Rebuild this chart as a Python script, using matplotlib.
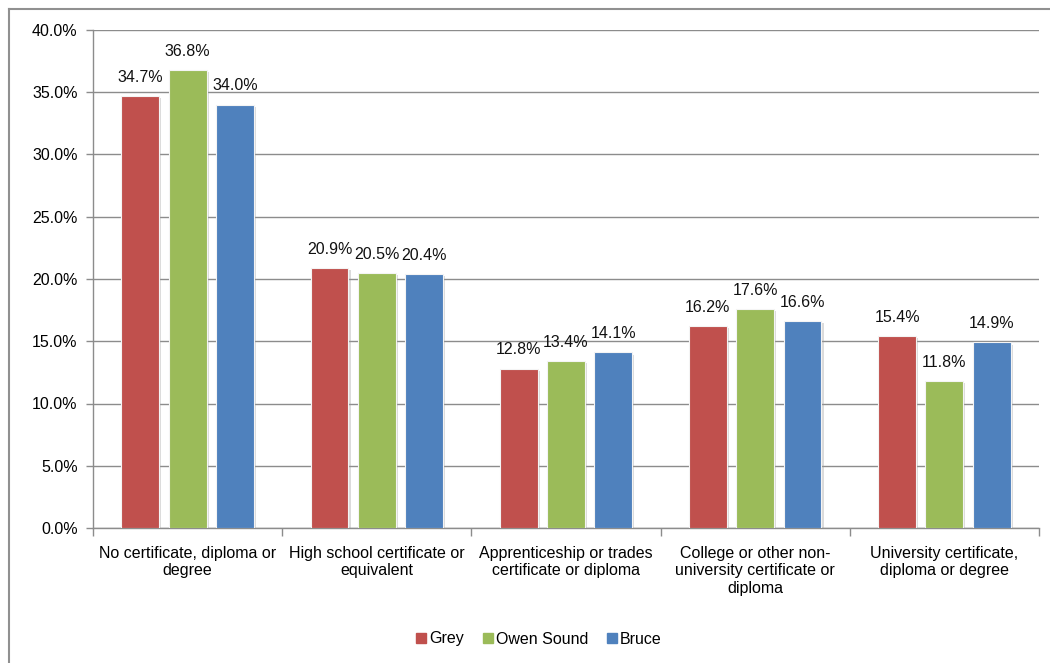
import matplotlib
matplotlib.use("Agg")
import matplotlib.pyplot as plt
import matplotlib.patheffects as pe
from matplotlib.lines import Line2D
import numpy as np

plt.rcParams['font.family'] = ['Liberation Sans', 'DejaVu Sans']

categories = [
    "No certificate, diploma or\ndegree",
    "High school certificate or\nequivalent",
    "Apprenticeship or trades\ncertificate or diploma",
    "College or other non-\nuniversity certificate or\ndiploma",
    "University certificate,\ndiploma or degree",
]
series_names = ["Grey", "Owen Sound", "Bruce"]
grey = [34.7, 20.9, 12.8, 16.2, 15.4]
owen_sound = [36.8, 20.5, 13.4, 17.6, 11.8]
bruce = [34.0, 20.4, 14.1, 16.6, 14.9]
yticks = [0, 5, 10, 15, 20, 25, 30, 35, 40]

colors = ["#C0504D", "#9BBB59", "#4F81BD"]
grid_color = "#8C8C8C"
fs = 11.5

fig = plt.figure(figsize=(10.5, 6.63), dpi=100)
ax = fig.add_axes([93 / 1050, 1 - 528 / 663, (1039 - 93) / 1050, (528 - 30) / 663])

x = np.arange(len(categories))
step = 0.25
width = 0.2
shadow = [pe.SimplePatchShadow(offset=(1.5, -1.5), shadow_rgbFace="#999999", alpha=0.35), pe.Normal()]

for i, (vals, name, col) in enumerate(zip([grey, owen_sound, bruce], series_names, colors)):
    pos = x + (i - 1) * step
    bars = ax.bar(pos, vals, width=width, color=col, edgecolor="#F4F4F4", linewidth=0.8,
                  label=name, zorder=3)
    for b in bars:
        b.set_path_effects(shadow)
    for px, v in zip(pos, vals):
        ax.text(px, v + 0.9, f"{v:.1f}%", ha="center", va="bottom", fontsize=fs, color="#111111", zorder=4)

ax.set_xlim(-0.5, len(categories) - 0.5)
ax.set_ylim(0, 40)
ax.set_yticks(yticks)
ax.set_yticklabels([f"{t:.1f}%" for t in yticks], fontsize=fs)
ax.yaxis.grid(True, color=grid_color, linewidth=1.0, zorder=0)
ax.set_axisbelow(True)

ax.set_xticks(x)
ax.set_xticklabels(categories, fontsize=fs, linespacing=1.2)
ax.set_xticks(np.arange(-0.5, len(categories)), minor=True)
ax.tick_params(axis="x", which="major", length=0, pad=13)
ax.tick_params(axis="x", which="minor", length=6, color=grid_color, width=1)
ax.tick_params(axis="y", length=5, color=grid_color, width=1, pad=6)

for side in ["top", "right"]:
    ax.spines[side].set_visible(False)
for side in ["left", "bottom"]:
    ax.spines[side].set_color(grid_color)
    ax.spines[side].set_linewidth(1.0)

handles = [Line2D([0], [0], marker="s", linestyle="none", markersize=7, markerfacecolor=c,
                  markeredgecolor=c) for c in colors]
fig.legend(handles, series_names, loc="center", bbox_to_anchor=(538 / 1050, 1 - 639 / 663),
           ncol=3, frameon=False, fontsize=fs, handletextpad=0.1, columnspacing=1.1,
           handlelength=0.8)

# chart frame (top and left edges)
fig.add_artist(Line2D([8.5 / 1050, 1.0], [1 - 8.5 / 663, 1 - 8.5 / 663], color="#909090",
                      linewidth=1.5, transform=fig.transFigure))
fig.add_artist(Line2D([8.5 / 1050, 8.5 / 1050], [0, 1 - 8.5 / 663], color="#909090",
                      linewidth=1.5, transform=fig.transFigure))

fig.savefig("out.png", dpi=100, facecolor="white")
